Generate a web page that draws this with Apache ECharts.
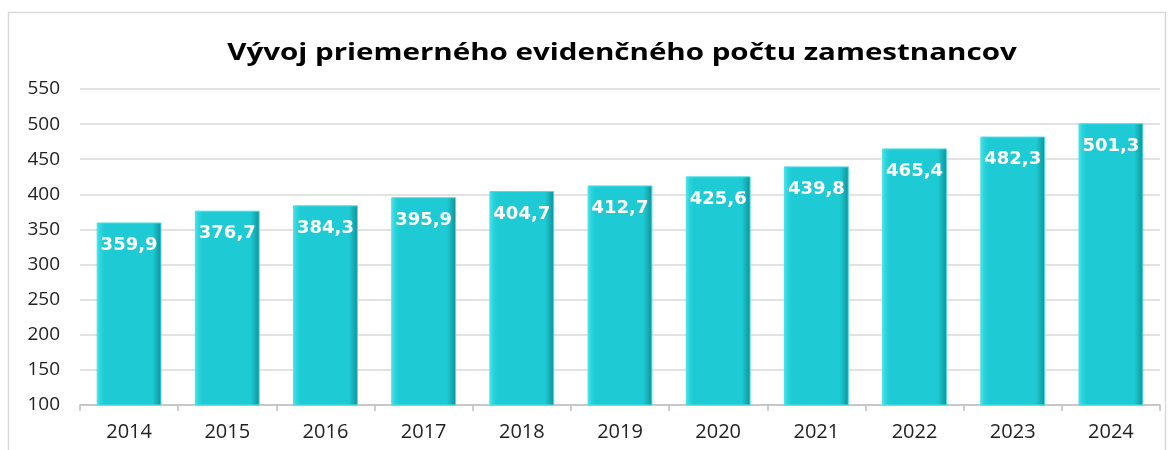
<!DOCTYPE html>
<html><head><meta charset="utf-8">
<script src="https://cdn.jsdelivr.net/npm/echarts@6/dist/echarts.min.js"></script>
<style>html,body{margin:0;padding:0;background:#fff}#c{width:1173px;height:450px}</style>
</head><body><div id="c"></div>
<script>
const categories = ['2014','2015','2016','2017','2018','2019','2020','2021','2022','2023','2024'];
const values = [359.9, 376.7, 384.3, 395.9, 404.7, 412.7, 425.6, 439.8, 465.4, 482.3, 501.3];
const titleText = 'Vývoj priemerného evidenčného počtu zamestnancov';

const chart = echarts.init(document.getElementById('c'));
chart.setOption({
  animation: false,
  backgroundColor: '#fff',
  graphic: [
    {type:'rect', shape:{x:8.5,y:12.5,width:1157,height:450}, style:{fill:'none',stroke:'#d9d9d9',lineWidth:1.5}, silent:true},
    {type:'text', x:622, y:53, scaleX:1.23, scaleY:1, silent:true,
     style:{text:titleText, fontFamily:'Open Sans', fontWeight:'bold', fontSize:24, fill:'#000', align:'center', verticalAlign:'middle'}}
  ],
  grid: {left: 80, right: 13, top: 89, bottom: 45},
  xAxis: {type:'category', data: categories,
    axisLine:{lineStyle:{color:'#bfbfbf', width:1.5}},
    axisTick:{show:true, length:6, lineStyle:{color:'#bfbfbf', width:1.5}},
    axisLabel:{fontFamily:'Open Sans', fontSize:20, color:'#222', margin:17}},
  yAxis: {type:'value', min:100, max:550, interval:50,
    axisLine:{show:false}, axisTick:{show:false},
    splitLine:{lineStyle:{color:'#d9d9d9', width:1.5}},
    axisLabel:{fontFamily:'Open Sans', fontSize:19, color:'#222', margin:20}},
  series: [{type:'bar', data: values, barWidth:'66%',
    itemStyle:{
      color:{type:'linear', x:0,y:0,x2:1,y2:0, colorStops:[
        {offset:0,color:'#4fe3ea'},{offset:0.06,color:'#2ad4dc'},{offset:0.12,color:'#1ecbd4'},
        {offset:0.86,color:'#1ecbd4'},{offset:0.93,color:'#17aeb6'},{offset:1,color:'#0f8f96'}]},
      borderColor:'#49dfe6', borderWidth:1},
    label:{show:true, position:'insideTop', distance:14, color:'#fff', fontFamily:'DejaVu Sans', fontWeight:'bold', fontSize:18,
      formatter: p => p.value.toFixed(1).replace('.', ',')}
  }]
});
</script></body></html>
